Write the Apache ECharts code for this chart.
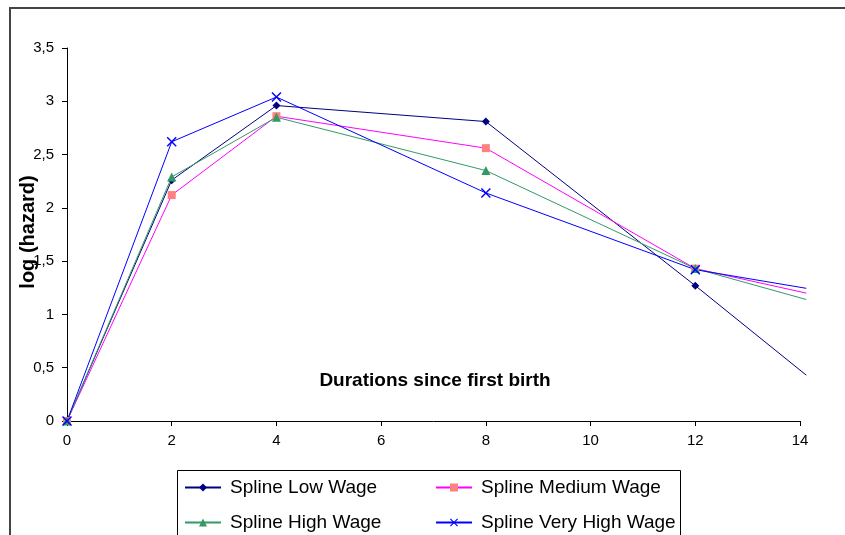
<!DOCTYPE html>
<html>
<head>
<meta charset="utf-8">
<script src="https://cdn.jsdelivr.net/npm/echarts@6/dist/echarts.min.js"></script>
<style>
html,body{margin:0;padding:0;background:#fff;}
#chart{width:845px;height:535px;}
</style>
</head>
<body>
<div id="chart"></div>
<script>
// Durations since first birth (x values); last point sits a touch past the 14 tick in the picture
var durations = [0, 2, 4, 8, 12, 14.12];
var seriesNames = ['Spline Low Wage', 'Spline Medium Wage', 'Spline High Wage', 'Spline Very High Wage'];
var lowWage      = [0, 2.26, 2.96, 2.81, 1.27, 0.43];
var mediumWage   = [0, 2.12, 2.86, 2.56, 1.43, 1.20];
var highWage     = [0, 2.29, 2.85, 2.35, 1.43, 1.14];
var veryHighWage = [0, 2.62, 3.04, 2.14, 1.42, 1.245];
var xTicks = [0, 2, 4, 6, 8, 10, 12, 14];
var yTicks = ['0', '0,5', '1', '1,5', '2', '2,5', '3', '3,5'];

var FONT = 'Liberation Sans, Arial, sans-serif';
var X_MAX_TICK = xTicks[xTicks.length - 1];
var X_MAX_DATA = durations[durations.length - 1];
var GRID_LEFT = 67, GRID_RIGHT = 45, GRID_TOP = 48, GRID_BOTTOM = 114;
var W = 845;
var plotW = W - GRID_LEFT - GRID_RIGHT;
var rightData = GRID_RIGHT - plotW * (X_MAX_DATA - X_MAX_TICK) / X_MAX_TICK;

function pairs(vals) {
  return durations.map(function (d, i) {
    var item = {value: [d, vals[i]]};
    if (i === durations.length - 1) item.symbol = 'none';
    return item;
  });
}
var xPath = 'path://M0,1L1,0L5,4L9,0L10,1L6,5L10,9L9,10L5,6L1,10L0,9L4,5Z';

function legendAt(name, left, top) {
  return {data: [name], orient: 'horizontal', left: left, top: top,
    itemWidth: 36, itemHeight: 10, padding: 0,
    textStyle: {fontFamily: FONT, fontSize: 19, color: '#000', padding: [0, 0, 0, 4]}};
}

var chart = echarts.init(document.getElementById('chart'), null, {renderer: 'canvas'});
chart.setOption({
  animation: false,
  backgroundColor: '#fff',
  grid: [
    {left: GRID_LEFT, right: GRID_RIGHT, top: GRID_TOP, bottom: GRID_BOTTOM, containLabel: false},
    {left: GRID_LEFT, right: rightData, top: GRID_TOP, bottom: GRID_BOTTOM, containLabel: false}
  ],
  xAxis: [{
    gridIndex: 0, type: 'value', min: 0, max: X_MAX_TICK, interval: 2,
    axisLine: {lineStyle: {color: '#000', width: 1}},
    axisTick: {show: true, length: 5, lineStyle: {color: '#000'}},
    axisLabel: {fontFamily: FONT, fontSize: 15, color: '#000', margin: 12,
      formatter: function (v) { return String(v); }},
    splitLine: {show: false}
  }, {
    gridIndex: 1, type: 'value', min: 0, max: X_MAX_DATA, show: false, splitLine: {show: false}
  }],
  yAxis: [{
    gridIndex: 0, type: 'value', min: 0, max: 3.5, interval: 0.5,
    axisLine: {show: true, lineStyle: {color: '#000', width: 1}},
    axisTick: {show: true, length: 5, lineStyle: {color: '#000'}},
    axisLabel: {fontFamily: FONT, fontSize: 15, color: '#000', margin: 13,
      formatter: function (v) { return yTicks[Math.round(v * 2)]; }},
    splitLine: {show: false}
  }, {
    gridIndex: 1, type: 'value', min: 0, max: 3.5, interval: 0.5, show: false, splitLine: {show: false}
  }],
  legend: [
    legendAt(seriesNames[0], 184, 478),
    legendAt(seriesNames[2], 184, 513),
    legendAt(seriesNames[1], 435, 478),
    legendAt(seriesNames[3], 435, 513)
  ],
  graphic: [
    {type: 'rect', z: -10, shape: {x: 10, y: 8, width: 900, height: 700},
     style: {fill: 'none', stroke: '#444', lineWidth: 2}},
    {type: 'rect', z: -5, shape: {x: 177.5, y: 470.5, width: 503, height: 100},
     style: {fill: 'none', stroke: '#000', lineWidth: 1}},
    {type: 'text', x: 435, y: 381,
     style: {text: 'Durations since first birth', font: 'bold 19px ' + FONT, fill: '#000',
             textAlign: 'center', textVerticalAlign: 'middle', align: 'center', verticalAlign: 'middle'}},
    {type: 'text', x: 28, y: 232, rotation: Math.PI / 2,
     style: {text: 'log (hazard)', font: 'bold 20px ' + FONT, fill: '#000',
             textAlign: 'center', textVerticalAlign: 'middle', align: 'center', verticalAlign: 'middle'}}
  ],
  series: [
    {name: seriesNames[0], type: 'line', data: pairs(lowWage),
     symbol: 'diamond', symbolSize: 8,
     lineStyle: {color: '#000080', width: 1}, itemStyle: {color: '#000080'}},
    {name: seriesNames[1], type: 'line', data: pairs(mediumWage),
     symbol: 'rect', symbolSize: 8,
     lineStyle: {color: '#FF00FF', width: 1}, itemStyle: {color: '#FF8080'}},
    {name: seriesNames[2], type: 'line', data: pairs(highWage),
     symbol: 'triangle', symbolSize: 9,
     lineStyle: {color: '#339966', width: 1}, itemStyle: {color: '#339966'}},
    {name: seriesNames[3], type: 'line', data: pairs(veryHighWage),
     symbol: xPath, symbolSize: 10,
     lineStyle: {color: '#0000FF', width: 1}, itemStyle: {color: '#0000FF'}}
  ].map(function (s) {
    s.xAxisIndex = 1;
    s.yAxisIndex = 1;
    s.clip = false;
    s.showAllSymbol = true;
    s.symbolKeepAspect = true;
    return s;
  })
});
</script>
</body>
</html>
